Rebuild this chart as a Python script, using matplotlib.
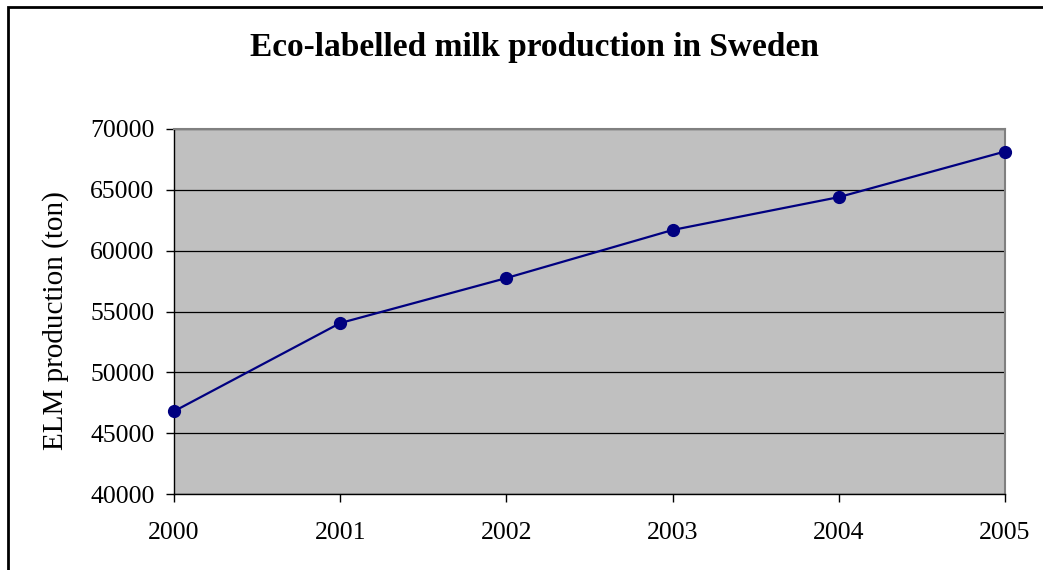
import matplotlib.pyplot as plt
from matplotlib.patches import Rectangle

# ELM production per year (ton)
years = [2000, 2001, 2002, 2003, 2004, 2005]
production = [46800, 54050, 57750, 61700, 64400, 68150]
y_ticks = [40000, 45000, 50000, 55000, 60000, 65000, 70000]

plt.rcParams['font.family'] = ['Liberation Serif', 'DejaVu Serif']

fig = plt.figure(figsize=(10.43, 5.70), dpi=100)
ax = fig.add_axes([0.1668, 0.1333, 0.7968, 0.6404])

# outer chart frame (runs off the right and bottom edges)
fig.patches.append(Rectangle((8 / 1043, -0.05), 1.2, 0.05 + 1 - 7 / 570,
                             transform=fig.transFigure, fill=False,
                             edgecolor='black', linewidth=2, zorder=0))

ax.set_facecolor('#c0c0c0')
ax.plot(years, production, color='#000080', linewidth=1.6,
        marker='o', markersize=8.5, zorder=3, clip_on=False)

ax.set_xlim(2000, 2005)
ax.set_ylim(40000, 70000)
ax.set_xticks(years)
ax.set_yticks(y_ticks)
ax.yaxis.grid(True, color='black', linewidth=0.9)
ax.set_axisbelow(True)

for s in ['top', 'right']:
    ax.spines[s].set_color('#808080')
    ax.spines[s].set_linewidth(1.5)
for s in ['left', 'bottom']:
    ax.spines[s].set_color('black')
    ax.spines[s].set_linewidth(1)

ax.tick_params(direction='out', length=6, width=1, labelsize=18.5, pad=8)
ax.tick_params(axis='x', pad=14)

ax.set_ylabel('ELM production (ton)', fontsize=21, va='center')
ax.yaxis.set_label_coords(-0.143, 0.475)
fig.text(0.512, 0.917, 'Eco-labelled milk production in Sweden',
         ha='center', va='center', fontsize=24, fontweight='bold')

plt.savefig('out.png', dpi=100)
